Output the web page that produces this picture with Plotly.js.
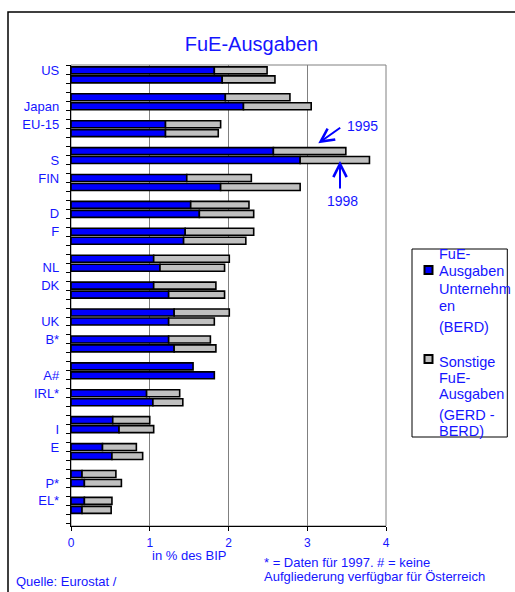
<!DOCTYPE html>
<html>
<head>
<meta charset="utf-8">
<script src="https://cdn.plot.ly/plotly-3.0.1.min.js"></script>
<style>html,body{margin:0;padding:0;background:#fff;}#chart{width:515px;height:592px;}</style>
</head>
<body>
<div id="chart"></div>
<script>
// ---- data ----
const countries = ['US','Japan','EU-15','S','FIN','D','F','NL','DK','UK','B*','A#','IRL*','I','E','P*','EL*'];
const berd1995 = [1.82,1.96,1.20,2.57,1.47,1.52,1.45,1.05,1.05,1.31,1.24,1.55,0.96,0.53,0.40,0.14,0.17];
const gerd1995 = [2.49,2.78,1.90,3.49,2.29,2.26,2.32,2.01,1.84,2.01,1.77,null,1.38,1.00,0.83,0.57,0.52];
const berd1998 = [1.92,2.19,1.20,2.91,1.90,1.63,1.43,1.13,1.24,1.24,1.31,1.82,1.04,0.61,0.52,0.17,0.14];
const gerd1998 = [2.59,3.05,1.87,3.79,2.91,2.32,2.22,1.95,1.95,1.82,1.84,null,1.42,1.05,0.91,0.64,0.51];
const xTicks = [0,1,2,3,4];
const seriesNames = ['FuE-Ausgaben Unternehmen (BERD)','Sonstige FuE-Ausgaben (GERD - BERD)'];

// ---- layout helpers ----
const W = 515, H = 592;
const L = 71, R = 386, T = 65, B = 526;
const px = x => (x - L) / (R - L);
const py = y => (B - y) / (B - T);
const BLUE = '#0000FF', GRAY = '#C0C0C0', TXT = '#1515FF';
const FONT = 'Arial, "Liberation Sans", sans-serif';

// rows: 3 per country (1995, 1998, gap)
const row95 = countries.map((c, k) => 3 * k);
const row98 = countries.map((c, k) => 3 * k + 1);
const labelRows = countries.map((c, k) => 3 * k + (k % 2));

const other = (g, b) => g.map((v, i) => v == null ? null : +(v - b[i]).toFixed(3));

const barStyle = (col) => ({color: col, line: {color: '#000', width: 1.6}});
const common = {type: 'bar', orientation: 'h', width: 0.78, hoverinfo: 'skip', showlegend: false};

const traces = [
  Object.assign({}, common, {name: seriesNames[0] + ' 1995', y: row95, x: berd1995, base: 0, marker: barStyle(BLUE)}),
  Object.assign({}, common, {name: seriesNames[1] + ' 1995', y: row95, x: other(gerd1995, berd1995), base: berd1995, marker: barStyle(GRAY)}),
  Object.assign({}, common, {name: seriesNames[0] + ' 1998', y: row98, x: berd1998, base: 0, marker: barStyle(BLUE)}),
  Object.assign({}, common, {name: seriesNames[1] + ' 1998', y: row98, x: other(gerd1998, berd1998), base: berd1998, marker: barStyle(GRAY)})
];

const txt = (text, x, y, size, anchor) => ({
  text: text, xref: 'paper', yref: 'paper', x: px(x), y: py(y),
  xanchor: anchor || 'left', yanchor: 'middle', showarrow: false,
  font: {family: FONT, size: size, color: TXT}
});

const legX = 437, legSize = 14.5;
const annotations = [
  txt('in % des BIP', 188.7, 555, 13, 'center'),
  txt('* = Daten für 1997. # = keine', 261.7, 562.7, 13),
  txt('Aufgliederung verfügbar für Österreich', 261.7, 576.7, 13),
  txt('Quelle: Eurostat /', 14, 581.7, 13),
  txt('1995', 362, 126, 14, 'center'),
  txt('1998', 342, 200.7, 14, 'center'),
  // legend text
  txt('FuE-', legX, 254, legSize), txt('Ausgaben', legX, 271, legSize),
  txt('Unternehm', legX, 288.5, legSize), txt('en', legX, 306, legSize),
  txt('(BERD)', legX, 327, legSize),
  txt('Sonstige', legX, 362, legSize), txt('FuE-', legX, 377.5, legSize),
  txt('Ausgaben', legX, 393.5, legSize), txt('(GERD -', legX, 414.5, legSize),
  txt('BERD)', legX, 430.5, legSize),
  // arrows
  {text: '', xref: 'paper', yref: 'paper', x: px(318.3), y: py(143.3), ax: 23.4, ay: -16.6,
   showarrow: true, arrowhead: 5, arrowsize: 1.3, arrowwidth: 2, arrowcolor: BLUE},
  {text: '', xref: 'paper', yref: 'paper', x: px(340), y: py(161), ax: 0, ay: 29,
   showarrow: true, arrowhead: 5, arrowsize: 1.3, arrowwidth: 2, arrowcolor: BLUE}
];

const rect = (x0, y0, x1, y1, line, fill, layer) => ({
  type: 'rect', xref: 'paper', yref: 'paper', x0: px(x0), x1: px(x1), y0: py(y1), y1: py(y0),
  line: line, fillcolor: fill || 'rgba(0,0,0,0)', layer: layer || 'above'
});

const shapes = [
  rect(8, 12, 530, 610, {color: '#000', width: 1.5}),
  rect(L, T, R, B, {color: '#808080', width: 1}, null, 'below'),
  rect(412, 249, 507.3, 437, {color: '#000', width: 1}),
  rect(424.5, 266, 432.5, 274, {color: '#000', width: 2}, BLUE),
  rect(424.5, 355, 432.5, 363, {color: '#000', width: 2}, GRAY)
];

const layout = {
  width: W, height: H,
  margin: {l: L, r: W - R, t: T, b: H - B, pad: 0},
  paper_bgcolor: '#fff', plot_bgcolor: '#fff',
  barmode: 'overlay',
  showlegend: false,
  title: {text: 'FuE-Ausgaben', x: 251.5 / W, xref: 'container', xanchor: 'center',
          y: 1 - 44 / H, yref: 'container', yanchor: 'middle',
          font: {family: FONT, size: 20, color: TXT}},
  xaxis: {range: [0, 4], tickvals: xTicks, ticktext: xTicks.map(String),
          ticks: 'outside', ticklen: 4, tickcolor: '#000', tickwidth: 1,
          showline: true, linecolor: '#000', linewidth: 1.2,
          showgrid: true, gridcolor: '#808080', gridwidth: 1, zeroline: false,
          ticklabelstandoff: 1,
          tickfont: {family: FONT, size: 12, color: TXT}, fixedrange: true},
  yaxis: {range: [50.8, -0.6], tickmode: 'array', tickvals: labelRows, ticktext: countries,
          ticks: 'outside', ticklen: 5, tickcolor: 'rgba(0,0,0,0)',
          minor: {tickmode: 'linear', tick0: -0.5, dtick: 1, ticks: 'outside', ticklen: 4, tickcolor: '#000', tickwidth: 1, showgrid: false},
          showline: true, linecolor: '#000', linewidth: 1.2,
          showgrid: false, zeroline: false, ticklabelstandoff: 3,
          tickfont: {family: FONT, size: 13, color: TXT}, fixedrange: true},
  annotations: annotations,
  shapes: shapes
};

Plotly.newPlot('chart', traces, layout, {displayModeBar: false, staticPlot: true});
</script>
</body>
</html>
